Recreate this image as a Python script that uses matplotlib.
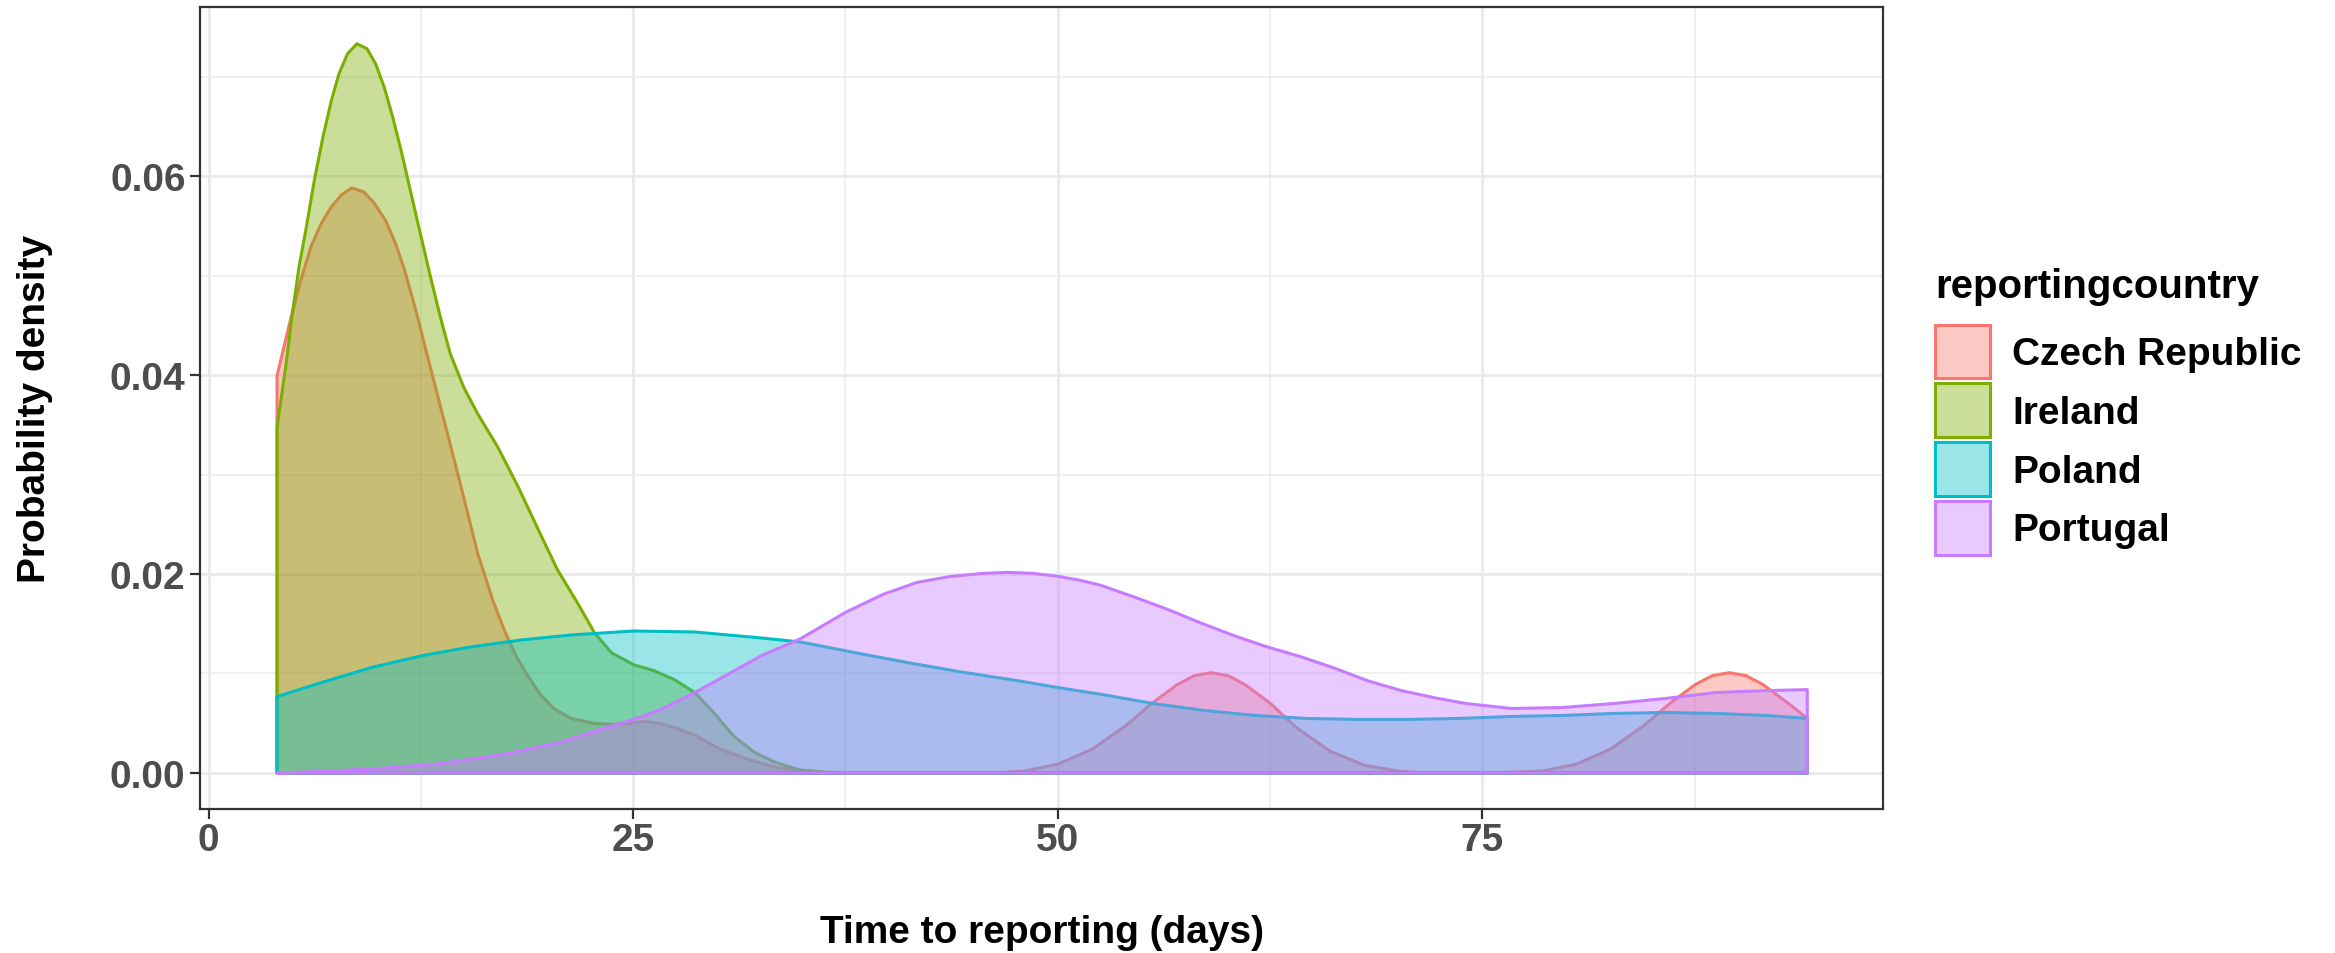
import matplotlib
matplotlib.use("Agg")
import matplotlib.pyplot as plt
import matplotlib.colors as mcolors
from matplotlib.ticker import MultipleLocator, FormatStrFormatter

plt.rcParams['font.family'] = ['Liberation Sans', 'DejaVu Sans']
plt.rcParams['font.weight'] = 'bold'

# density curves (x in days, y = density)
czech_x = [4.0, 4.8, 5.4, 6.0, 6.6, 7.2, 7.8, 8.4, 9.1, 9.7, 10.4, 11.0, 11.5, 12.2, 13.0,
           14.0, 15.0, 15.8, 16.7, 17.4, 18.1, 18.8, 19.5, 20.3, 21.3, 22.7, 23.7, 24.7,
           25.6, 26.5, 27.4, 28.6, 30.1, 31.7, 33.3, 34.8, 37.0, 42.0, 46.0, 48.0, 50.0,
           52.0, 54.0, 55.5, 57.0, 58.0, 59.0, 60.0, 61.0, 62.5, 64.0, 66.0, 68.0, 70.0,
           72.0, 75.0, 78.5, 80.5, 82.5, 84.5, 86.0, 87.5, 88.5, 89.5, 90.5, 91.5, 93.0,
           94.1]
czech_y = [0.0400, 0.0457, 0.0496, 0.0530, 0.0553, 0.0570, 0.0582, 0.0589, 0.0585, 0.0574,
           0.0556, 0.0532, 0.0507, 0.0464, 0.0410, 0.0344, 0.0277, 0.0222, 0.0174, 0.0143,
           0.0117, 0.0097, 0.0079, 0.0065, 0.0055, 0.0050, 0.0049, 0.0050, 0.0052, 0.0050,
           0.0046, 0.0038, 0.0024, 0.0014, 0.0006, 0.0002, 0.0, 0.0, 0.0, 0.0002, 0.0009,
           0.0024, 0.0048, 0.0070, 0.0089, 0.0098, 0.0101, 0.0098, 0.0089, 0.0070, 0.0046,
           0.0022, 0.0008, 0.0002, 0.0, 0.0, 0.0002, 0.0009, 0.0024, 0.0048, 0.0070,
           0.0089, 0.0098, 0.0101, 0.0098, 0.0089, 0.0070, 0.0055]

ireland_x = [4.0, 4.5, 4.9, 5.3, 5.7, 6.2, 6.7, 7.2, 7.65, 8.15, 8.7, 9.3, 9.8, 10.3, 10.8,
             11.3, 11.8, 12.3, 13.0, 13.6, 14.2, 15.0, 15.8, 17.0, 18.2, 19.3, 20.5, 21.7,
             22.7, 23.7, 25.0, 26.2, 27.4, 28.6, 29.7, 30.9, 32.1, 33.3, 34.8, 36.4, 38.0,
             50.0, 70.0, 94.1]
ireland_y = [0.0348, 0.0408, 0.0462, 0.0510, 0.0547, 0.0597, 0.0640, 0.0677, 0.0704, 0.0724,
             0.0734, 0.0729, 0.0714, 0.0691, 0.0661, 0.0627, 0.0590, 0.0553, 0.0502, 0.0460,
             0.0422, 0.0388, 0.0362, 0.0328, 0.0288, 0.0248, 0.0205, 0.0171, 0.0141, 0.0121,
             0.0109, 0.0103, 0.0094, 0.0081, 0.0061, 0.0037, 0.0021, 0.0011, 0.0003, 0.0001,
             0.0, 0.0, 0.0, 0.0]

poland_x = [4.0, 6.6, 9.5, 12.5, 15.4, 18.4, 21.3, 25.0, 28.6, 32.5, 34.8, 38.4, 41.2, 44.2,
            47.6, 50.0, 52.6, 55.6, 58.6, 61.6, 64.6, 67.6, 70.6, 73.6, 76.7, 79.7, 82.7,
            85.7, 88.7, 91.7, 94.1]
poland_y = [0.0077, 0.0091, 0.0106, 0.0118, 0.0127, 0.0134, 0.0139, 0.0143, 0.0142, 0.0136,
            0.0132, 0.0120, 0.0111, 0.0102, 0.0093, 0.0086, 0.0079, 0.0070, 0.0063, 0.0058,
            0.0055, 0.0054, 0.0054, 0.0055, 0.0057, 0.0058, 0.0060, 0.0061, 0.0060, 0.0058,
            0.0055]

portugal_x = [4.0, 7.0, 9.5, 13.4, 17.4, 20.7, 22.7, 25.0, 26.6, 28.6, 30.5, 32.5, 34.8,
              36.4, 37.5, 39.7, 41.7, 43.7, 45.6, 47.0, 48.5, 50.0, 51.3, 52.5, 54.5, 56.4,
              58.4, 60.4, 62.3, 64.3, 66.2, 68.2, 70.2, 72.1, 74.0, 76.7, 79.7, 82.7, 85.7,
              88.7, 91.7, 94.1]
portugal_y = [0.0, 0.0002, 0.0004, 0.0009, 0.0019, 0.0031, 0.0042, 0.0054, 0.0064, 0.0081,
              0.0099, 0.0118, 0.0135, 0.0151, 0.0162, 0.0180, 0.0192, 0.0198, 0.0201, 0.0202,
              0.0201, 0.0198, 0.0194, 0.0189, 0.0177, 0.0165, 0.0151, 0.0138, 0.0127, 0.0117,
              0.0106, 0.0093, 0.0083, 0.0076, 0.0070, 0.0065, 0.0066, 0.0070, 0.0075, 0.0081,
              0.0083, 0.0084]

countries = ['Czech Republic', 'Ireland', 'Poland', 'Portugal']
colors = ['#F8766D', '#7CAE00', '#00BFC4', '#C77CFF']
series = [(czech_x, czech_y), (ireland_x, ireland_y), (poland_x, poland_y), (portugal_x, portugal_y)]

fig = plt.figure(figsize=(23.35, 9.54), dpi=100)
ax = fig.add_axes([0.0857, 0.1509, 0.7208, 0.8412])

handles = []
for name, col, (xs, ys) in zip(countries, colors, series):
    h = ax.fill_between(xs, ys, 0, facecolor=mcolors.to_rgba(col, 0.4),
                        edgecolor=col, linewidth=2.2, label=name)
    handles.append(h)

ax.set_xlim(-0.5, 98.6)
ax.set_ylim(-0.00367, 0.0771)
ax.xaxis.set_major_locator(MultipleLocator(25))
ax.xaxis.set_minor_locator(MultipleLocator(12.5))
ax.yaxis.set_major_locator(MultipleLocator(0.02))
ax.yaxis.set_minor_locator(MultipleLocator(0.01))
ax.yaxis.set_major_formatter(FormatStrFormatter('%.2f'))

ax.set_axisbelow(True)
ax.grid(which='major', color='#EBEBEB', linewidth=2.2)
ax.grid(which='minor', color='#EBEBEB', linewidth=1.1)
ax.tick_params(which='major', length=7, width=1.6, color='#333333',
               labelsize=28, labelcolor='#4D4D4D')
ax.tick_params(axis='x', pad=2)
ax.tick_params(axis='y', pad=3.5)
ax.tick_params(which='minor', length=0)
for s in ax.spines.values():
    s.set_color('#333333')
    s.set_linewidth(1.6)

ax.set_xlabel('Time to reporting (days)', fontsize=28, fontweight='bold', va='center')
ax.xaxis.set_label_coords(0.5, -0.153)
ax.set_ylabel('Probability density', fontsize=28, fontweight='bold', va='center')
ax.yaxis.set_label_coords(-0.098, 0.5)

leg = fig.legend(handles=handles, labels=countries, title='reportingcountry',
                 loc='upper left', bbox_to_anchor=(0.8287, 0.719), frameon=False,
                 fontsize=28, title_fontsize=29, handlelength=1.41, handleheight=1.75,
                 handletextpad=0.58, labelspacing=0.13, borderpad=0, borderaxespad=0,
                 alignment='left')
leg.get_title().set_fontweight('bold')
leg._legend_box.sep = 14

fig.savefig('out.png', dpi=100)
